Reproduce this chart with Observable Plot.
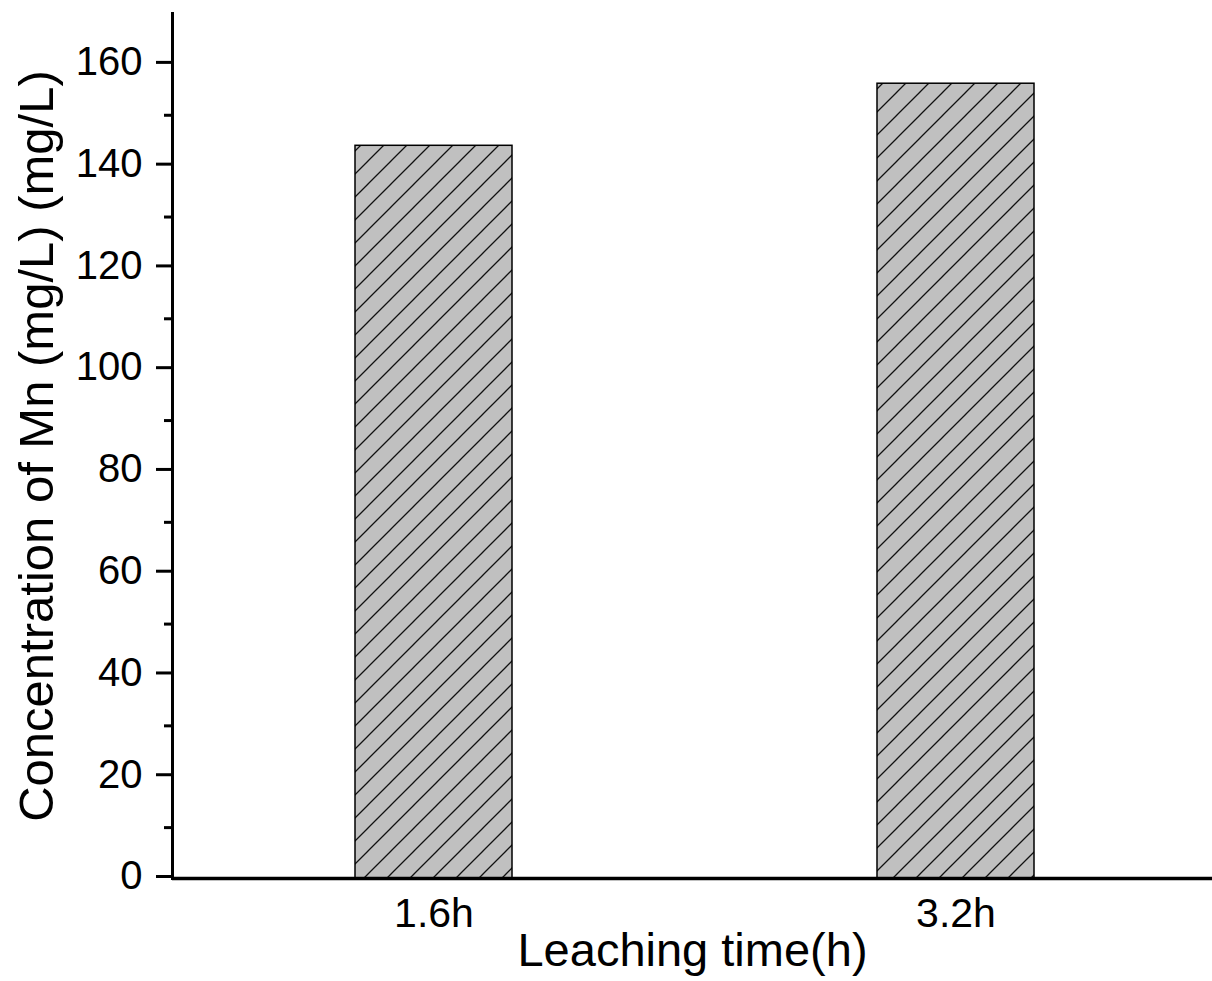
<!DOCTYPE html>
<html>
<head>
<meta charset="utf-8">
<script src="https://cdn.jsdelivr.net/npm/d3@7"></script>
<script src="https://cdn.jsdelivr.net/npm/@observablehq/plot@0.6"></script>
<style>
  html, body { margin: 0; padding: 0; background: #fff; }
  #chart svg { display: block; }
</style>
</head>
<body>
<div id="chart"></div>
<script>
const categories = ["1.6h", "3.2h"];
const values = [144, 156.2];
const majorTicks = [0, 20, 40, 60, 80, 100, 120, 140, 160];
const minorTicks = [10, 30, 50, 70, 90, 110, 130, 150];
const xLabel = "Leaching time(h)";
const yLabel = "Concentration of Mn (mg/L) (mg/L)";

const data = categories.map((c, i) => ({cat: c, value: values[i]}));
const font = "'Liberation Sans', Arial, sans-serif";

const chart = Plot.plot({
  width: 1212,
  height: 981,
  marginLeft: 172,
  marginRight: 0,
  marginTop: 13,
  marginBottom: 103,
  style: {fontFamily: font, color: "#000", background: "#fff"},
  x: {type: "band", domain: categories, range: [172, 1217], paddingInner: 0.7, paddingOuter: 0.35},
  y: {domain: [0, 170]},
  marks: [
    Plot.barY(data, {x: "cat", y: "value", fill: "url(#hatch)", stroke: "#000", strokeWidth: 1.5}),
    Plot.axisY(minorTicks, {tickSize: 8, tickFormat: () => "", strokeWidth: 3, label: null}),
    Plot.axisY(majorTicks, {tickSize: 16, tickPadding: 14, fontSize: 40, dy: -2, strokeWidth: 3, label: null}),
    Plot.axisX({tickSize: 0, tickPadding: 19, fontSize: 41, label: null}),
    Plot.frame({anchor: "left", strokeWidth: 3}),
    Plot.ruleY([0], {strokeWidth: 3.5}),
    Plot.text([xLabel], {frameAnchor: "bottom", lineAnchor: "bottom", dy: 87, fontSize: 47}),
    Plot.text([yLabel], {frameAnchor: "left", textAnchor: "middle", rotate: -90, lineAnchor: "bottom", dx: -120, fontSize: 49})
  ]
});

// hatch pattern definition
const svg = d3.select(chart);
const defs = svg.insert("defs", ":first-child");
const pat = defs.append("pattern")
  .attr("id", "hatch")
  .attr("patternUnits", "userSpaceOnUse")
  .attr("width", 23)
  .attr("height", 23);
pat.append("rect").attr("width", 23).attr("height", 23).attr("fill", "#c0c0c0");
pat.append("path")
  .attr("d", "M0,23L23,0M-3,3L3,-3M20,26L26,20")
  .attr("stroke", "#111")
  .attr("stroke-width", 1.3);

// thicker tick marks, as in the reference
svg.selectAll("g[aria-label='y-axis tick']").style("stroke-width", "3px");
svg.selectAll("g[aria-label='y-axis tick'] path").style("stroke-width", "3px");

document.getElementById("chart").appendChild(chart);
</script>
</body>
</html>
